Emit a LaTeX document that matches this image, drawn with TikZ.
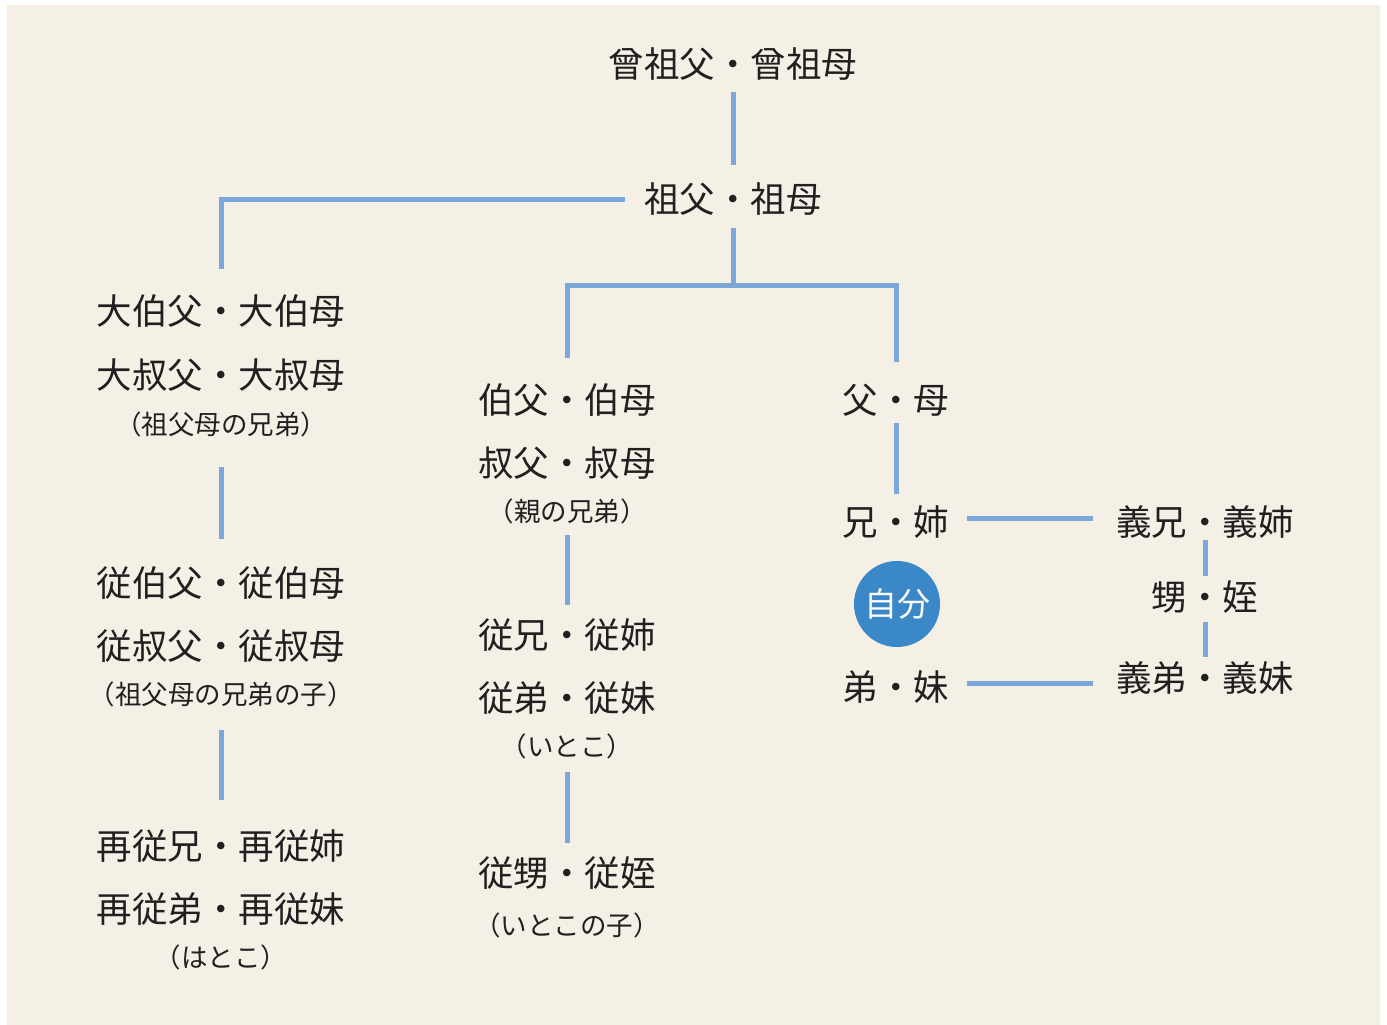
\documentclass[tikz,border=0pt]{standalone}
\usepackage{fontspec}
\setmainfont{Noto Sans CJK JP}
\definecolor{bg}{HTML}{F4F0E6}
\definecolor{ln}{HTML}{7BA7D9}
\definecolor{me}{HTML}{3A88C8}
\definecolor{tx}{HTML}{231F20}
\begin{document}
\begin{tikzpicture}[x=1pt,y=-1pt,
  big/.style={font=\fontsize{35.5}{40}\selectfont, text=tx, inner sep=0pt, outer sep=0pt, text height=31.24pt, text depth=4.26pt},
  small/.style={font=\fontsize{26.5}{30}\selectfont, text=tx, inner sep=0pt, outer sep=0pt, text height=23.32pt, text depth=3.18pt},
  selfnode/.style={circle, fill=me, minimum size=86pt, inner sep=0pt, text=white, font=\fontsize{33}{36}\selectfont, text height=29.04pt, text depth=3.96pt},
  conn/.style={draw=ln, line width=5pt},
]
\useasboundingbox (0,0) rectangle (1387,1025);
\fill[white] (0,0) rectangle (1387,1025);
\fill[bg] (7,5) rectangle (1380,1025);

% top
\node[big] (sosofu) at (733,64) {曾祖父・曾祖母};
\node[big] (sofu) at (733,199) {祖父・祖母};
\coordinate (br) at (733,285);

% left column
\node[big] (L1) at (221,311) {大伯父・大伯母};
\node[big] (L2) at (221,375) {大叔父・大叔母};
\node[small] (L3) at (221,424) {（祖父母の兄弟）};
\node[big] (L4) at (221,583) {従伯父・従伯母};
\node[big] (L5) at (221,646) {従叔父・従叔母};
\node[small] (L6) at (221,694) {（祖父母の兄弟の子）};
\node[big] (L7) at (221,846) {再従兄・再従姉};
\node[big] (L8) at (221,909) {再従弟・再従妹};
\node[small] (L9) at (221,957) {（はとこ）};

% middle column
\node[big] (M1) at (567,400) {伯父・伯母};
\node[big] (M2) at (567,463) {叔父・叔母};
\node[small] (M3) at (567,511) {（親の兄弟）};
\node[big] (M4) at (567,635) {従兄・従姉};
\node[big] (M5) at (567,698) {従弟・従妹};
\node[small] (M6) at (567,746) {（いとこ）};
\node[big] (M7) at (567,873) {従甥・従姪};
\node[small] (M8) at (567,925) {（いとこの子）};

% right column
\node[big] (R1) at (896,400) {父・母};
\node[big] (R2) at (896,522) {兄・姉};
\node[selfnode] (me) at (897,604) {自分};
\node[big] (R3) at (896,687) {弟・妹};

% far right
\node[big] (F1) at (1205,522) {義兄・義姉};
\node[big] (F2) at (1205,597) {甥・姪};
\node[big] (F3) at (1205,678) {義弟・義妹};

% connectors
\draw[conn, shorten <=10pt, shorten >=16pt] (sosofu.south) -- (sofu.north);
\draw[conn, shorten <=19pt, shorten >=24pt] (sofu.west) -| (L1.north);
\draw[conn, shorten <=11pt] (sofu.south) -- (br);
\draw[conn, shorten >=24pt] (br) -| (M1.north);
\draw[conn, shorten >=20pt] (br) -| (R1.north);

\draw[conn, shorten <=30pt, shorten >=26pt] (L3.south) -- (L4.north);
\draw[conn, shorten <=23pt, shorten >=28pt] (L6.south) -- (L7.north);

\draw[conn, shorten <=11pt, shorten >=12pt] (M3.south) -- (M4.north);
\draw[conn, shorten <=13pt, shorten >=12pt] (M6.south) -- (M7.north);

\draw[conn, shorten <=5pt, shorten >=10pt] (R1.south) -- (R2.north);
\draw[conn, shorten <=18pt, shorten >=23pt] ([yshift=4pt]R2.east) -- ([yshift=4pt]R2.east -| F1.west);
\draw[conn, shorten <=18pt, shorten >=23pt] ([yshift=3.5pt]R3.east) -- ([yshift=3.5pt]R3.east -| F3.west);

\draw[conn, shorten >=3pt] (F1.south) -- (F2.north);
\draw[conn, shorten <=7pt, shorten >=3pt] (F2.south) -- (F3.north);
\end{tikzpicture}
\end{document}
